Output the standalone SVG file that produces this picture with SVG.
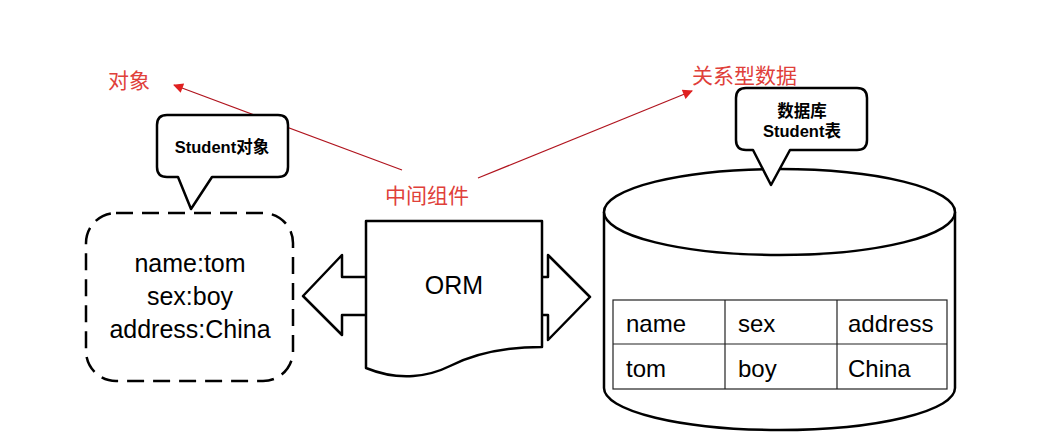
<svg xmlns="http://www.w3.org/2000/svg" width="1039" height="443" viewBox="0 0 1039 443">
<defs>
<style>
.shape{fill:#fff;stroke:#000;stroke-width:2.5;stroke-linejoin:round}
.big{font-family:"Liberation Sans","Noto Sans CJK SC",sans-serif;font-size:25px;fill:#000}
.cellt{font-family:"Liberation Sans","Noto Sans CJK SC",sans-serif;font-size:24px;fill:#000}
.bub{font-family:"Liberation Sans","Noto Sans CJK SC",sans-serif;font-size:16.5px;font-weight:bold;fill:#000;text-anchor:middle}
.red{font-family:"Noto Sans CJK SC",sans-serif;font-size:21px;fill:#e0403a}
.conn{stroke:#b0141e;stroke-width:1.2;fill:none}
.cell{fill:none;stroke:#222;stroke-width:1.2}
</style>
<marker id="ah" viewBox="0 0 10 10" refX="9" refY="5" markerWidth="12" markerHeight="10" markerUnits="userSpaceOnUse" orient="auto">
<path d="M0,0 L10,5 L0,10 Z" fill="#e02020"/>
</marker>
</defs>
<rect width="1039" height="443" fill="#fff"/>

<g id="labels">
<text class="red" x="108" y="88">对象</text>
<text class="red" x="692" y="83">关系型数据</text>
<text class="red" x="385" y="203">中间组件</text>
</g>

<g id="connectors">
<line class="conn" x1="402" y1="170" x2="174" y2="85" marker-end="url(#ah)"/>
<line class="conn" x1="478" y1="178" x2="692" y2="91" marker-end="url(#ah)"/>
</g>

<g id="object-box">
<rect x="86" y="213" width="207" height="168" rx="30" ry="30" fill="#fff" stroke="#000" stroke-width="2.5" stroke-dasharray="17 9"/>
<text class="big" x="190" y="272" text-anchor="middle">name:tom</text>
<text class="big" x="190" y="305" text-anchor="middle">sex:boy</text>
<text class="big" x="190" y="338" text-anchor="middle">address:China</text>
</g>

<g id="bubble-object">
<path class="shape" d="M167,115 H278 Q288,115 288,125 V167 Q288,177 278,177 H212 L191,209 L178,177 H167 Q157,177 157,167 V125 Q157,115 167,115 Z"/>
<text class="bub" x="222" y="153">Student对象</text>
</g>

<g id="double-arrow">
<path class="shape" d="M303,296 L342,255 V277 H548 V255 L590,297 L548,340 V315 H342 V335 Z"/>
</g>

<g id="orm">
<path class="shape" d="M366,221 H542 V347 C500,347 472,355 450,366 C430,376 400,382 366,368 Z"/>
<text class="big" x="454" y="294" text-anchor="middle">ORM</text>
</g>

<g id="database">
<path class="shape" d="M604,212 V388 A175.5,42 0 0 0 955,388 V212"/>
<ellipse class="shape" cx="779.5" cy="212" rx="175.5" ry="43"/>
<rect class="cell" x="613" y="300" width="334" height="89"/>
<line class="cell" x1="613" y1="344" x2="947" y2="344"/>
<line class="cell" x1="725" y1="300" x2="725" y2="389"/>
<line class="cell" x1="837" y1="300" x2="837" y2="389"/>
<text class="cellt" x="626" y="332">name</text>
<text class="cellt" x="738" y="332">sex</text>
<text class="cellt" x="848" y="332">address</text>
<text class="cellt" x="626" y="377">tom</text>
<text class="cellt" x="738" y="377">boy</text>
<text class="cellt" x="848" y="377">China</text>
</g>

<g id="bubble-db">
<path class="shape" d="M746,88 H857 Q867,88 867,98 V140 Q867,150 857,150 H790 L771,185 L753,150 H746 Q736,150 736,140 V98 Q736,88 746,88 Z"/>
<text class="bub" x="802" y="117">数据库</text>
<text class="bub" x="802" y="137">Student表</text>
</g>
</svg>
